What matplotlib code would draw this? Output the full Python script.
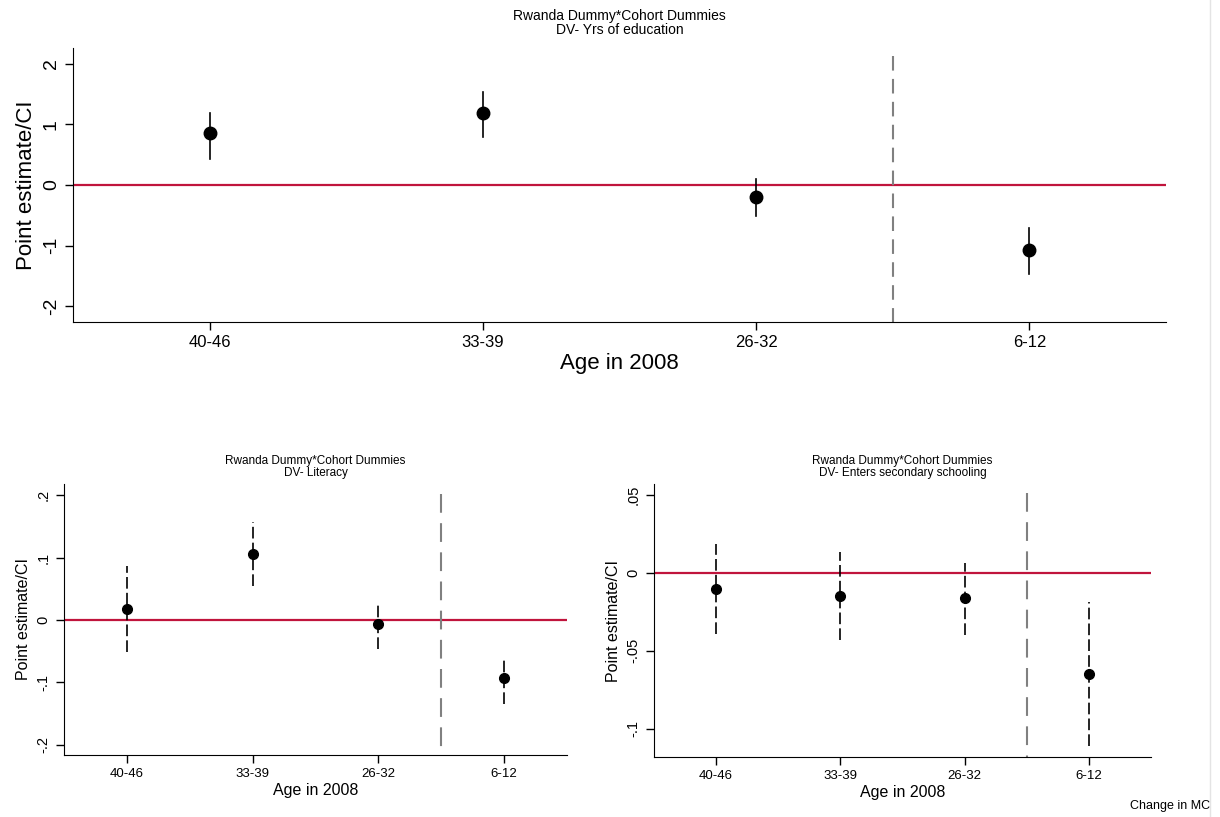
import numpy as np
import matplotlib
matplotlib.use("Agg")
import matplotlib.pyplot as plt
from matplotlib.patches import Rectangle

plt.rcParams["font.family"] = ["Liberation Sans", "DejaVu Sans"]

cohorts = ["40-46", "33-39", "26-32", "6-12"]

# years of education
edu_est = [0.86, 1.18, -0.20, -1.08]
edu_lo = [0.43, 0.79, -0.505, -1.46]
edu_hi = [1.18, 1.54, 0.105, -0.71]

# literacy
lit_est = [0.018, 0.105, -0.006, -0.093]
lit_lo = [-0.051, 0.054, -0.046, -0.135]
lit_hi = [0.087, 0.157, 0.027, -0.063]

# enters secondary schooling
sec_est = [-0.0103, -0.0146, -0.0161, -0.065]
sec_lo = [-0.039, -0.043, -0.040, -0.111]
sec_hi = [0.0185, 0.0135, 0.0064, -0.019]

red = "#c0143c"
W, H = 1220, 817


def box(l, r, t, b):
    return [l / W, 1 - b / H, (r - l) / W, (b - t) / H]


def panel(ax, est, lo, hi, ylim, yticks, yticklabels, vtop, subtitle,
          fs_title, fs_tick, fs_ytick, fs_lab, ms, ci_ls, vdash, pad):
    x = np.arange(1, len(cohorts) + 1)
    ax.axhline(0, color=red, lw=1.6, zorder=1)
    ax.plot([3.5, 3.5], [vtop, ylim[0]], color="#808080", lw=1.5,
            ls=(0, vdash), zorder=1)
    for xi, l, h in zip(x, lo, hi):
        ax.plot([xi, xi], [l, h], color="black", lw=1.2, ls=ci_ls, zorder=2)
    ax.plot(x, est, "o", color="black", ms=ms, zorder=3)
    ax.set_xlim(0.5, 4.5)
    ax.set_ylim(*ylim)
    ax.set_xticks(x)
    ax.set_xticklabels(cohorts, fontsize=fs_tick)
    ax.set_yticks(yticks)
    ax.set_yticklabels(yticklabels, fontsize=fs_ytick, rotation=90, va="center")
    for s in ["top", "right"]:
        ax.spines[s].set_visible(False)
    ax.tick_params(length=6, width=1)
    ax.set_ylabel("Point estimate/CI", fontsize=fs_lab)
    ax.set_xlabel("Age in 2008", fontsize=fs_lab, labelpad=2)
    ax.set_title("Rwanda Dummy*Cohort Dummies\n" + subtitle,
                 fontsize=fs_title, linespacing=1.0, pad=pad)


fig = plt.figure(figsize=(12.2, 8.17), dpi=100)

ax1 = fig.add_axes(box(73, 1166, 48, 322))
panel(ax1, edu_est, edu_lo, edu_hi, (-2.26, 2.26), [-2, -1, 0, 1, 2],
      ["-2", "-1", "0", "1", "2"], 2.12, "DV- Yrs of education",
      10, 12, 14, 16, 9, "-", (7, 4), 10)

ax2 = fig.add_axes(box(64, 567, 484, 755))
panel(ax2, lit_est, lit_lo, lit_hi, (-0.2165, 0.218), [-0.2, -0.1, 0, 0.1, 0.2],
      ["-.2", "-.1", "0", ".1", ".2"], 0.2027, "DV- Literacy",
      8.5, 9.5, 10.5, 11.5, 7, (0, (7, 2.5)), (9, 5), 6)

ax3 = fig.add_axes(box(654, 1151, 484, 757))
panel(ax3, sec_est, sec_lo, sec_hi, (-0.118, 0.0569), [-0.1, -0.05, 0, 0.05],
      ["-.1", "-.05", "0", ".05"], 0.0511, "DV- Enters secondary schooling",
      8.5, 9.5, 10.5, 11.5, 7, (0, (7, 2.5)), (9, 5), 6)

fig.text(1130 / W, 1 - 806 / H, "Change in MC", fontsize=9, va="center")
fig.patches.append(Rectangle((1210 / W, 0), 10 / W, 1, transform=fig.transFigure,
                             facecolor="white", edgecolor="none", zorder=10))
fig.lines.append(plt.Line2D([1210 / W, 1210 / W], [0, 1], transform=fig.transFigure,
                            color="#e4e4e4", lw=1, zorder=11))

fig.savefig("out.png", dpi=100)
